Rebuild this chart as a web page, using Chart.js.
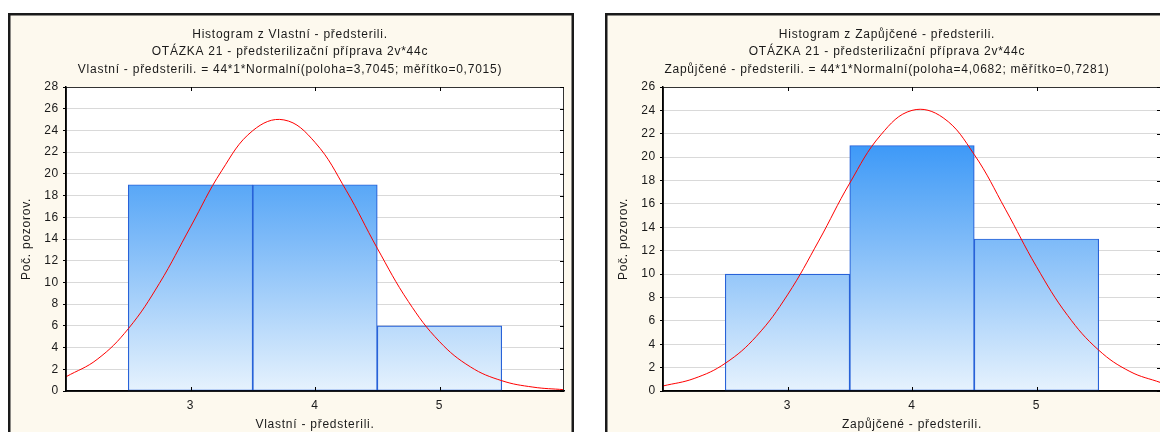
<!DOCTYPE html>
<html><head><meta charset="utf-8">
<script src="https://cdn.jsdelivr.net/npm/chart.js@4.4.1/dist/chart.umd.min.js"></script>
<style>
html,body{margin:0;padding:0;background:#fff;width:1160px;height:432px;overflow:hidden;position:relative}
canvas{position:absolute;top:0}
#c1{left:0}
#c2{left:597px}
</style></head><body>
<canvas id="c1" width="580" height="432"></canvas>
<canvas id="c2" width="580" height="432"></canvas>
<script>
// ---- data ----
const binCenters = [3, 4, 5];
const countsVlastni = [19, 19, 6];
const countsZapujcene = [10, 21, 13];
const xTickLabels = [3, 4, 5];
const curveX = [2, 2.25, 2.5, 2.75, 3, 3.25, 3.5, 3.75, 4, 4.25, 4.5, 4.75, 5, 5.25, 5.5, 5.75, 6];
const curveVlastni = [1.31, 2.91, 5.73, 9.91, 15.11, 20.28, 23.98, 24.97, 22.90, 18.49, 13.15, 8.24, 4.55, 2.21, 0.95, 0.36, 0.12];
const curveZapujcene = [0.43, 1.07, 2.37, 4.68, 8.22, 12.82, 17.78, 21.91, 24.00, 23.37, 20.22, 15.55, 10.63, 6.46, 3.49, 1.67, 0.71];
const yMaxVlastni = 28;
const yMaxZapujcene = 26;
const titleVlastni = ['Histogram z Vlastní - předsterili.', 'OTÁZKA 21 - předsterilizační příprava 2v*44c', 'Vlastní - předsterili. = 44*1*Normalní(poloha=3,7045; měřítko=0,7015)'];
const titleZapujcene = ['Histogram z Zapůjčené - předsterili.', 'OTÁZKA 21 - předsterilizační příprava 2v*44c', 'Zapůjčené - předsterili. = 44*1*Normalní(poloha=4,0682; měřítko=0,7281)'];
const xTitleVlastni = 'Vlastní - předsterili.';
const xTitleZapujcene = 'Zapůjčené - předsterili.';
const yTitle = 'Poč. pozorov.';

// ---- styling ----
const LS = '0.75px';
const FONT = {family: "'Liberation Sans', Arial, sans-serif", size: 12};
const TXT = '#1a1a1a';

const panelPlugin = {
  id: 'panel',
  beforeLayout(chart) { chart.ctx.letterSpacing = LS; },
  beforeDraw(chart) {
    const ctx = chart.ctx;
    ctx.letterSpacing = LS;
    ctx.save();
    ctx.fillStyle = '#FDF9EE';
    ctx.fillRect(8, 13, 566, 440);
    ctx.strokeStyle = '#1a1a1a';
    ctx.lineWidth = 2.5;
    ctx.strokeRect(9.25, 14.25, 563.5, 440);
    const a = chart.chartArea;
    ctx.fillStyle = '#ffffff';
    ctx.fillRect(a.left, a.top, a.right - a.left, a.bottom - a.top);
    ctx.restore();
  },
  afterDatasetsDraw(chart) {
    const ctx = chart.ctx, a = chart.chartArea;
    const xs = chart.scales.x, ys = chart.scales.y;
    ctx.save();
    ctx.strokeStyle = '#333';
    ctx.lineWidth = 1;
    ctx.beginPath();
    ctx.moveTo(a.left, a.top + 0.5); ctx.lineTo(a.right - 0.5, a.top + 0.5); ctx.lineTo(a.right - 0.5, a.bottom);
    ctx.stroke();
    ctx.strokeStyle = '#000';
    ctx.beginPath();
    xTickLabels.forEach(v => {
      const px = Math.round(xs.getPixelForValue(v)) + 0.5;
      ctx.moveTo(px, a.bottom); ctx.lineTo(px, a.bottom - 4);
      ctx.moveTo(px, a.top); ctx.lineTo(px, a.top + 4);
    });
    ys.ticks.forEach(t => {
      const py = Math.round(ys.getPixelForValue(t.value)) + 0.5;
      ctx.moveTo(a.right, py); ctx.lineTo(a.right - 4, py);
    });
    ctx.stroke();
    ctx.lineWidth = 1.5;
    ctx.beginPath();
    ctx.moveTo(a.left, a.top); ctx.lineTo(a.left, a.bottom); ctx.lineTo(a.right, a.bottom);
    ctx.stroke();
    ctx.restore();
  }
};

function barGradient(c) {
  const chart = c.chart, a = chart.chartArea;
  if (!a) return '#8ec4f8';
  const g = chart.ctx.createLinearGradient(0, a.bottom, 0, a.top);
  g.addColorStop(0, '#E6F2FD');
  g.addColorStop(0.5, '#7DBAF8');
  g.addColorStop(0.68, '#58A7F7');
  g.addColorStop(0.81, '#3D99F8');
  g.addColorStop(1, '#2A8CF6');
  return g;
}

function makeChart(id, counts, curve, yMax, titleLines, xTitle) {
  return new Chart(document.getElementById(id), {
    type: 'bar',
    data: {
      datasets: [
        {
          type: 'line',
          data: curveX.map((x, i) => ({x: x, y: curve[i]})),
          borderColor: '#FF0000',
          borderWidth: 1,
          pointRadius: 0,
          tension: 0.4,
          fill: false,
          order: 0
        },
        {
          type: 'bar',
          data: binCenters.map((x, i) => ({x: x, y: counts[i]})),
          backgroundColor: barGradient,
          borderColor: '#2862D8',
          borderWidth: 1.2,
          borderSkipped: false,
          barPercentage: 1,
          categoryPercentage: 1,
          order: 1
        }
      ]
    },
    options: {
      responsive: false,
      animation: false,
      devicePixelRatio: 1,
      layout: {padding: {left: 16, right: 16, top: 0, bottom: 0}},
      plugins: {
        legend: {display: false},
        tooltip: {enabled: false},
        title: {
          display: true,
          text: titleLines,
          color: TXT,
          font: {family: FONT.family, size: 12, weight: 'normal', lineHeight: 1.475},
          padding: {top: 25.6, bottom: 8.3}
        }
      },
      scales: {
        x: {
          type: 'linear',
          min: 2, max: 6,
          offset: false,
          afterBuildTicks: s => { s.ticks = xTickLabels.map(v => ({value: v})); },
          afterFit: s => { s.height = 41; },
          grid: {display: false, drawTicks: false},
          border: {display: true, color: '#000', width: 1.5},
          ticks: {color: TXT, font: FONT, padding: 7.5, maxRotation: 0, autoSkip: false},
          title: {display: true, text: xTitle, color: TXT, font: FONT, padding: {top: 0, bottom: 0.5}}
        },
        y: {
          min: 0, max: yMax,
          afterFit: s => { s.width = 50; },
          ticks: {stepSize: 2, color: TXT, font: FONT, padding: 4},
          grid: {color: '#d9d9d9', lineWidth: 1, drawTicks: true, tickLength: 3, tickColor: '#000'},
          border: {display: true, color: '#000', width: 1.5},
          title: {display: true, text: yTitle, color: TXT, font: FONT, padding: {top: 3.5, bottom: 0}}
        }
      }
    },
    plugins: [panelPlugin]
  });
}

makeChart('c1', countsVlastni, curveVlastni, yMaxVlastni, titleVlastni, xTitleVlastni);
makeChart('c2', countsZapujcene, curveZapujcene, yMaxZapujcene, titleZapujcene, xTitleZapujcene);
</script>
</body></html>
